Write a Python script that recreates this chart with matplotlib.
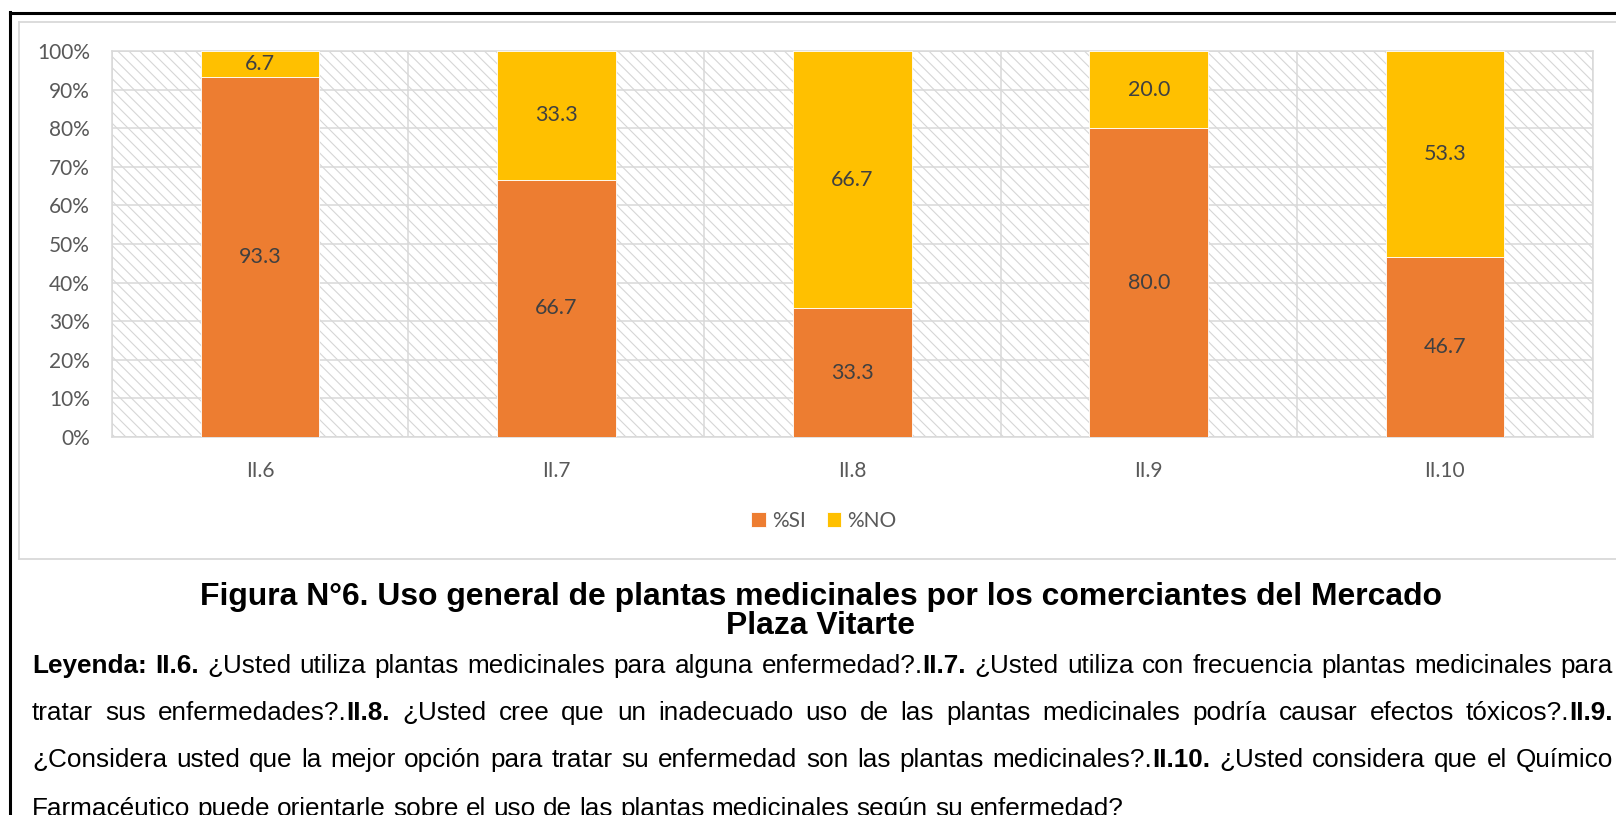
import matplotlib
matplotlib.use('Agg')
import matplotlib.pyplot as plt
from matplotlib.patches import Rectangle
from matplotlib.lines import Line2D
from matplotlib.transforms import IdentityTransform
from matplotlib.font_manager import FontProperties

# ---------------- data ----------------
categories = ['II.6', 'II.7', 'II.8', 'II.9', 'II.10']
pct_si = [93.3, 66.7, 33.3, 80.0, 46.7]
pct_no = [6.7, 33.3, 66.7, 20.0, 53.3]
series_names = ['%SI', '%NO']
y_ticks = [0, 10, 20, 30, 40, 50, 60, 70, 80, 90, 100]
y_tick_labels = [f'{v}%' for v in y_ticks]

title_lines = ['Figura N°6. Uso general de plantas medicinales por los comerciantes del Mercado',
               'Plaza Vitarte']

caption_lines = [
    [('Leyenda: II.6.', True), (' ¿Usted utiliza plantas medicinales para alguna enfermedad?.', False),
     ('II.7.', True), (' ¿Usted utiliza con frecuencia plantas medicinales para', False)],
    [('tratar sus enfermedades?.', False), ('II.8.', True),
     (' ¿Usted cree que un inadecuado uso de las plantas medicinales podría causar efectos tóxicos?.', False),
     ('II.9.', True)],
    [('¿Considera usted que la mejor opción para tratar su enfermedad son las plantas medicinales?.', False),
     ('II.10.', True), (' ¿Usted considera que el Químico', False)],
    [('Farmacéutico puede orientarle sobre el uso de las plantas medicinales según su enfermedad?', False)],
]
caption_justify = [True, True, True, False]

# ---------------- style ----------------
W, H = 1616, 815
C_SI = '#ED7D31'
C_NO = '#FFC000'
GRID = '#d9d9d9'
TXT = '#595959'
LBL = '#404040'
CHART_FONT = 'Lato'
CAP_FONT = 'Liberation Sans'
plt.rcParams['hatch.linewidth'] = 0.8

fig = plt.figure(figsize=(W / 100, H / 100), dpi=100)
fig.patch.set_facecolor('white')

def fx(px):
    return px / W

def fy(py):
    return 1 - py / H

# plot area
pl, pr, pt, pb = 112, 1593, 51, 437
ax = fig.add_axes([fx(pl), fy(pb), fx(pr - pl), (pb - pt) / H])

# hatched background
bg = Rectangle((0, 0), 1, 1, transform=ax.transAxes, facecolor='white',
               edgecolor='#d6d6d6', hatch='\\\\\\', linewidth=0, zorder=0.1)
ax.add_patch(bg)

x = list(range(len(categories)))
bw = 0.40
b1 = ax.bar(x, pct_si, width=bw, color=C_SI, edgecolor='white', linewidth=0.6, zorder=3, label=series_names[0])
b2 = ax.bar(x, pct_no, width=bw, bottom=pct_si, color=C_NO, edgecolor='white', linewidth=0.6, zorder=3,
            label=series_names[1])

for i in x:
    ax.text(i, pct_si[i] / 2, f'{pct_si[i]:.1f}', ha='center', va='center', fontsize=15.5,
            color=LBL, family=CHART_FONT, zorder=4)
    ax.text(i, pct_si[i] + pct_no[i] / 2, f'{pct_no[i]:.1f}', ha='center', va='center', fontsize=15.5,
            color=LBL, family=CHART_FONT, zorder=4)

ax.set_xlim(-0.5, len(categories) - 0.5)
ax.set_ylim(0, 100)
ax.set_yticks(y_ticks)
ax.set_yticklabels(y_tick_labels)
ax.set_xticks(x)
ax.set_xticklabels(categories)
ax.set_xticks([i - 0.5 for i in range(len(categories) + 1)], minor=True)
ax.tick_params(axis='both', which='both', length=0)
ax.tick_params(axis='y', pad=16, labelsize=15, labelcolor=TXT)
ax.tick_params(axis='x', pad=17, labelsize=15, labelcolor=TXT)
for lab in ax.get_xticklabels() + ax.get_yticklabels():
    lab.set_family(CHART_FONT)
ax.grid(axis='y', which='major', color=GRID, linewidth=1.1, zorder=1)
ax.grid(axis='x', which='minor', color=GRID, linewidth=1.1, zorder=1)
ax.set_axisbelow(True)
for s in ax.spines.values():
    s.set_color(GRID)
    s.set_linewidth(1.1)

leg = fig.legend(handles=[b1, b2], labels=series_names, loc='center',
                 bbox_to_anchor=(fx(824), fy(521)), ncol=2, frameon=False,
                 prop=FontProperties(family=CHART_FONT, size=15),
                 handlelength=0.7, handleheight=0.7, handletextpad=0.3, columnspacing=1.0)
for t in leg.get_texts():
    t.set_color(TXT)

# frames
fig.add_artist(Line2D([fx(19), fx(W + 5)], [fy(22), fy(22)], color=GRID, linewidth=1.3))
fig.add_artist(Line2D([fx(19), fx(19)], [fy(22), fy(559)], color=GRID, linewidth=1.3))
fig.add_artist(Line2D([fx(19), fx(W + 5)], [fy(559), fy(559)], color=GRID, linewidth=1.3))
fig.add_artist(Line2D([fx(9.5), fx(W + 5)], [fy(12.5), fy(12.5)], color='black', linewidth=2.2))
fig.add_artist(Line2D([fx(9.5), fx(9.5)], [fy(11.5), fy(H + 5)], color='black', linewidth=2.2))

# ---------------- caption text ----------------
renderer = fig.canvas.get_renderer()

def run_width(s, bold, fs, family):
    t = fig.text(0, 0, s, fontsize=fs, family=family, weight='bold' if bold else 'normal')
    w = t.get_window_extent(renderer).width
    t.remove()
    return w

# title
title_target = 1242
fs_t = 22
wt = run_width(title_lines[0], True, fs_t, CAP_FONT)
fs_t = fs_t * title_target / wt
title_base = [605, 634]
for line, yb in zip(title_lines, title_base):
    fig.text(821, H - yb, line, transform=IdentityTransform(), ha='center', va='baseline',
             fontsize=fs_t, weight='bold', family=CAP_FONT, color='black')

def to_words(runs):
    words, cur = [], []
    for text, bold in runs:
        parts = text.split(' ')
        for i, p in enumerate(parts):
            if i > 0 and cur:
                words.append(cur)
                cur = []
            if p:
                cur.append((p, bold))
    if cur:
        words.append(cur)
    return words

x0, x1 = 32, 1613
target = x1 - x0
fs_c = 16.8
words0 = to_words(caption_lines[0])
sp = run_width('a a', False, fs_c, CAP_FONT) - run_width('aa', False, fs_c, CAP_FONT)
nat = sum(run_width(s, b, fs_c, CAP_FONT) for wd in words0 for s, b in wd) + sp * (len(words0) - 1)
fs_c = fs_c * (target * 0.995) / nat
sp = run_width('a a', False, fs_c, CAP_FONT) - run_width('aa', False, fs_c, CAP_FONT)

cap_base = [673, 720, 767, 816]
for runs, yb, just in zip(caption_lines, cap_base, caption_justify):
    words = to_words(runs)
    widths = [[run_width(s, b, fs_c, CAP_FONT) for s, b in wd] for wd in words]
    total = sum(sum(w) for w in widths)
    gap = (target - total) / (len(words) - 1) if (just and len(words) > 1) else sp
    cx = x0
    for wd, ws in zip(words, widths):
        for (s, b), w in zip(wd, ws):
            fig.text(cx, H - yb, s, transform=IdentityTransform(), ha='left', va='baseline',
                     fontsize=fs_c, weight='bold' if b else 'normal', family=CAP_FONT, color='black')
            cx += w
        cx += gap

fig.savefig('out.png', dpi=100, facecolor='white')
